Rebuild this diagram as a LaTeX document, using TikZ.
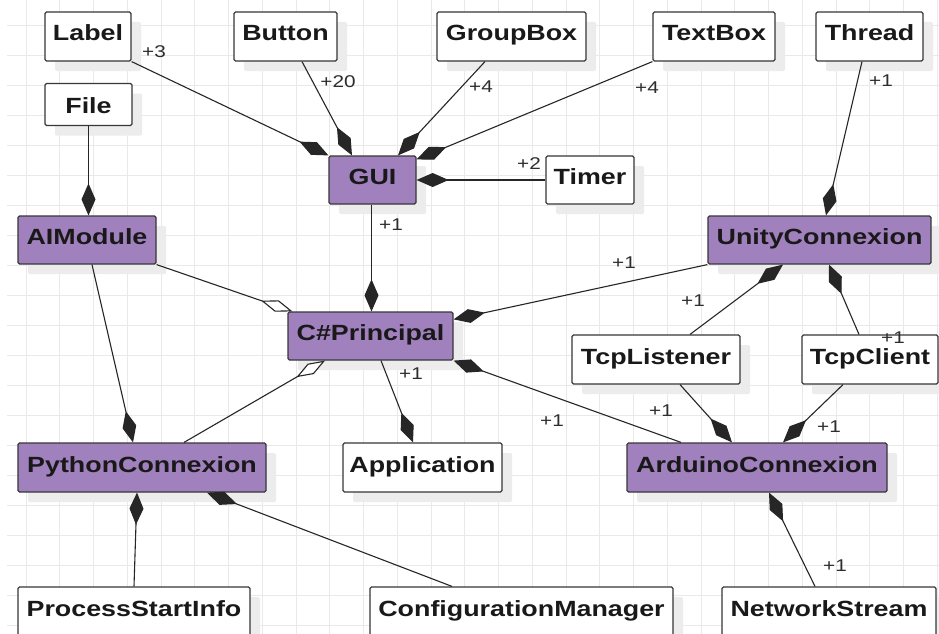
\documentclass[tikz,border=0pt]{standalone}
\usepackage{fontspec}
\setmainfont{Liberation Sans}[FakeStretch=1.22]
\usetikzlibrary{arrows.meta,shadows}
\definecolor{purp}{RGB}{161,128,190}
\definecolor{gridc}{RGB}{233,233,233}
\definecolor{shadc}{RGB}{236,236,236}
\definecolor{edgec}{RGB}{55,55,55}
\definecolor{labc}{RGB}{45,45,45}
\begin{document}
\begin{tikzpicture}[x=1pt,y=-1pt,
  cls/.style={draw=edgec, line width=1.2pt, rounded corners=1.5pt, inner sep=0pt,
    text height=16pt, text depth=7pt,
    font=\fontsize{22}{24}\selectfont\bfseries, text=black!90,
    drop shadow={shadow xshift=10pt, shadow yshift=-10pt, opacity=1, fill=shadc, draw=none}},
  plain/.style={cls, fill=white},
  core/.style={cls, fill=purp},
  comp/.style={draw=black!85, line width=1.1pt, -{Diamond[length=32pt,width=14pt]}},
  aggr/.style={draw=black!85, line width=1.1pt, -{Diamond[open,length=33pt,width=12pt,fill=white]}},
  mult/.style={font=\fontsize{17}{18}\selectfont, text=labc, inner sep=0pt}]
\useasboundingbox (0,0) rectangle (939,634);
\fill[white] (0,0) rectangle (939,634);
% grid
\foreach \i in {0,...,27} \draw[gridc, line width=0.9pt] (26+33.75*\i,0) -- (26+33.75*\i,634);
\foreach \j in {0,...,20} \draw[gridc, line width=0.9pt] (7,25+30*\j) -- (939,25+30*\j);
% nodes
\node[plain, minimum width=86pt, minimum height=49pt] (label) at (88,36.5) {Label};
\node[plain, minimum width=87pt, minimum height=42pt, text height=17pt, text depth=0pt] (file) at (88.5,104.5) {File};
\node[plain, minimum width=103pt, minimum height=49pt] (button) at (285.5,36.5) {Button};
\node[plain, minimum width=149pt, minimum height=49pt] (groupbox) at (511.5,36.5) {GroupBox};
\node[plain, minimum width=122pt, minimum height=49pt] (textbox) at (714,36.5) {TextBox};
\node[plain, minimum width=107pt, minimum height=49pt] (thread) at (869.5,36.5) {Thread};
\node[core, minimum width=87pt, minimum height=48pt] (gui) at (372.5,180) {GUI};
\node[plain, minimum width=88pt, minimum height=48pt] (timer) at (590,180) {Timer};
\node[core, minimum width=138pt, minimum height=48pt] (aimodule) at (87,240) {AIModule};
\node[core, minimum width=223pt, minimum height=48pt] (unity) at (819.5,240) {UnityConnexion};
\node[core, minimum width=165pt, minimum height=48pt] (principal) at (370.5,336) {C\#Principal};
\node[plain, minimum width=168pt, minimum height=49pt] (tcplistener) at (656,359.5) {TcpListener};
\node[plain, minimum width=136pt, minimum height=49pt] (tcpclient) at (870,359.5) {TcpClient};
\node[core, minimum width=248pt, minimum height=49pt] (python) at (142,467.5) {PythonConnexion};
\node[plain, minimum width=159pt, minimum height=49pt] (application) at (422.5,467.5) {Application};
\node[core, minimum width=260pt, minimum height=49pt] (arduino) at (757,467.5) {ArduinoConnexion};
\node[plain, minimum width=232pt, minimum height=49pt] (psi) at (134,611.5) {ProcessStartInfo};
\node[plain, minimum width=303pt, minimum height=49pt] (config) at (521.5,611.5) {ConfigurationManager};
\node[plain, minimum width=214pt, minimum height=49pt] (netstream) at (829,611.5) {NetworkStream};
% connectors
\draw[comp] (label.south east) -- (gui.north west);
\draw[comp] ([xshift=16.5pt]button.south) -- ([xshift=-20.5pt]gui.north);
\draw[comp] ([xshift=-26.5pt]groupbox.south) -- ([xshift=25.5pt]gui.north);
\draw[comp] (textbox.south west) -- ([yshift=-4pt]gui.north east);
\draw[comp] (timer.west) -- (gui.east);
\draw[comp] ([xshift=-7.5pt]thread.south) -- ([xshift=6.5pt]unity.north);
\draw[comp] (file.south) -- ([xshift=1.5pt]aimodule.north);
\draw[comp] ([xshift=-1pt]gui.south) -- ([xshift=1pt]principal.north);
\draw[aggr] (aimodule.south east) -- ([xshift=5pt]principal.north west);
\draw[aggr] ([xshift=42pt]python.north) -- ([xshift=-45.5pt]principal.south);
\draw[comp] ([xshift=5pt]aimodule.south) -- ([xshift=-9pt]python.north);
\draw[comp] ([xshift=10.5pt]principal.south) -- ([xshift=-9.5pt]application.north);
\draw[comp] (unity.south west) -- ([yshift=-8pt]principal.north east);
\draw[comp] ([xshift=-76pt]arduino.north) -- (principal.south east);
\draw[comp] ([xshift=34pt]tcplistener.north) -- ([xshift=-36.5pt]unity.south);
\draw[comp] ([xshift=-11pt]tcpclient.north) -- ([xshift=9.5pt]unity.south);
\draw[comp] ([xshift=24pt]tcplistener.south) -- ([xshift=-25pt]arduino.north);
\draw[comp] ([xshift=-27pt]tcpclient.south) -- ([xshift=26pt]arduino.north);
\draw[comp] ([xshift=-14pt]netstream.north) -- ([xshift=12pt]arduino.south);
\draw[comp] (psi.north) -- ([xshift=-5pt]python.south);
\draw[comp] ([xshift=-69.5pt]config.north) -- ([xshift=65pt]python.south);
% multiplicities
\node[mult] (m1) at (154,52) {+3};
\node[mult] (m2) at (338,82) {+20};
\node[mult] (m3) at (481,87) {+4};
\node[mult] (m4) at (647,88) {+4};
\node[mult] (m5) at (529,164) {+2};
\node[mult] (m6) at (881,81) {+1};
\node[mult] (m7) at (391,225) {+1};
\node[mult] (m8) at (411,374) {+1};
\node[mult] (m9) at (624,263) {+1};
\node[mult] (m10) at (693,301) {+1};
\node[mult] (m11) at (893,338) {+1};
\node[mult] (m12) at (552,421) {+1};
\node[mult] (m13) at (661,411) {+1};
\node[mult] (m14) at (829,427) {+1};
\node[mult] (m15) at (835,566) {+1};
\end{tikzpicture}
\end{document}
